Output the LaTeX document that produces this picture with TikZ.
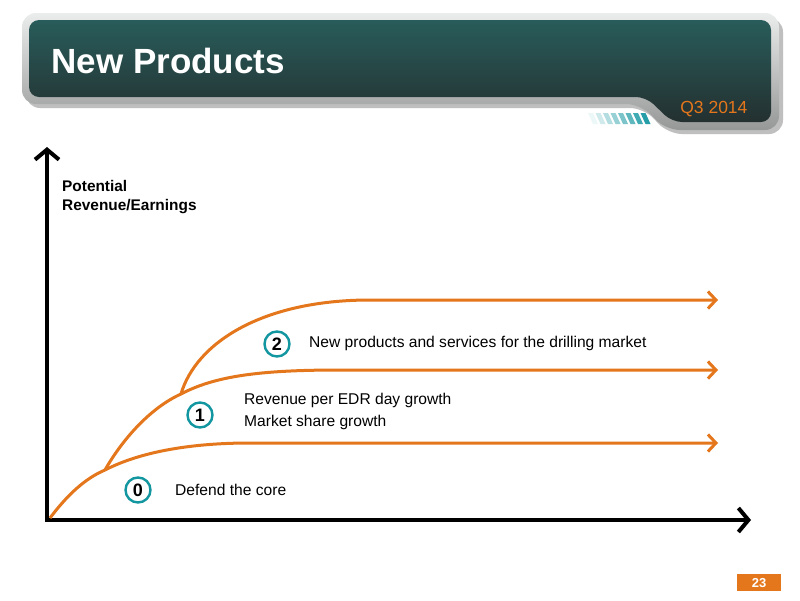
\documentclass[tikz,border=0pt]{standalone}
\usepackage{fontspec}
\setmainfont{Liberation Sans}
\usetikzlibrary{arrows.meta,calc}
\definecolor{growthOrange}{RGB}{228,118,28}
\definecolor{ringTeal}{RGB}{18,150,160}
\definecolor{barTop}{RGB}{40,92,90}
\definecolor{barBottom}{RGB}{36,48,48}
\definecolor{rimLight}{RGB}{235,236,236}
\definecolor{rimDark}{RGB}{150,152,152}
\tikzset{
 axis/.style = {draw=black, line width=4pt, -{Straight Barb[length=10pt,width=24pt]}},
 growth/.style = {draw=growthOrange, line width=3pt},
 growthEnd/.style = {growth, -{Straight Barb[length=8pt,width=17pt]}},
 badge/.style = {circle, draw=ringTeal, line width=2.4pt, fill=white,
   minimum size=25pt, inner sep=0pt, font=\fontsize{18}{18}\selectfont\bfseries},
 caption/.style = {anchor=west, inner sep=0pt, font=\fontsize{15.6}{17}\selectfont}
}
\newcommand{\stageBadge}[3]{
    \node[badge] (#1) at #2 {#3};
}
\begin{document}
\begin{tikzpicture}[x=1pt, y=-1pt]
    \useasboundingbox[fill=white] (0,0) rectangle (800,600);
    % header banner
    \fill[black!25, rounded corners=14pt] (26,18) -- (783,18) -- (783,134) -- (668,134)
        -- (644,108) -- (26,108) -- cycle;
    \foreach \i in {0,...,7}{
        \pgfmathsetmacro{\shadeval}{8+\i*12}
        \fill[ringTeal!\shadeval!white] ($(588,113)+(\i*7.5,0)$) -- ++(5,0) -- ++(5,11) -- ++(-5,0) -- cycle;
    }
    \shade[top color=rimLight, bottom color=rimDark, rounded corners=14pt]
        (22,13) -- (779,13) -- (779,130) -- (666,130) -- (640,104) -- (22,104) -- cycle;
    \shade[top color=barTop, bottom color=barBottom, rounded corners=10pt]
        (29,20) -- (771,20) -- (771,122) -- (672,122) -- (646,97) -- (29,97) -- cycle;
    \node[anchor=west, text=white, font=\fontsize{35}{35}\selectfont\bfseries] (title) at (48,61) {New Products};
    \node[anchor=east, text=growthOrange, font=\fontsize{17.5}{17.5}\selectfont] (quarter) at (751,109) {Q3 2014};

    % axes
    \coordinate (origin) at (47,520);
    \coordinate (yEnd) at (47,147);
    \coordinate (xEnd) at (751,520);
    \draw[axis] ($(origin)+(0,2)$) -- (yEnd);
    \draw[axis] ($(origin)+(-2,0)$) -- (xEnd);
    \node[anchor=north west, align=left, inner sep=0pt,
        font=\fontsize{15.4}{19}\selectfont\bfseries] (ylabel) at (62,180) {Potential\\Revenue/Earnings};

    % growth curves
    \coordinate (start) at (50,518);
    \coordinate (fork0) at (105,470);
    \coordinate (fork1) at (181,394);
    \coordinate (tip0) at (718,443);
    \coordinate (tip1) at (718,370);
    \coordinate (tip2) at (718,300);
    \draw[growth] (start) .. controls (68,494) and (86,478) .. (fork0);
    \draw[growthEnd] (fork0) .. controls (140,452) and (190,443) .. (250,443) -- (tip0);
    \draw[growthEnd] (fork0) .. controls (122,440) and (150,408) .. (fork1)
        .. controls (215,376) and (260,370) .. (340,370) -- (tip1);
    \draw[growthEnd] (fork1) .. controls (196,343) and (262,300) .. (370,300) -- (tip2);

    % stages
    \stageBadge{stage0}{(138,490)}{0}
    \stageBadge{stage1}{(200,415)}{1}
    \stageBadge{stage2}{(277,344)}{2}
    \node[caption] (core) at (175,490) {Defend the core};
    \node[caption] (edr) at (244,400) {Revenue per EDR day growth};
    \node[caption] (share) at (244,422) {Market share growth};
    \node[caption] (drill) at (309,343) {New products and services for the drilling market};

    % page number
    \fill[growthOrange] (737,574) rectangle (781,591);
    \node[text=white, font=\fontsize{13}{13}\selectfont\bfseries] (page) at (759,583) {23};
\end{tikzpicture}
\end{document}
